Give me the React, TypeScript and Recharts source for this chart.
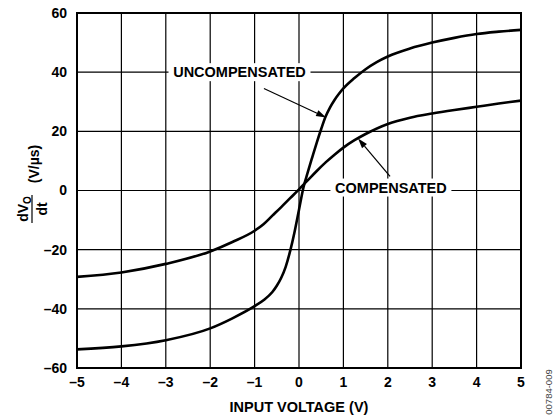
import React from 'react';
import {
  LineChart,
  Line,
  XAxis,
  YAxis,
  CartesianGrid,
  ReferenceArea,
  ReferenceLine,
  ReferenceDot,
} from 'recharts';

// input voltage (V) and slew rate (V/µs)
const uncompX = [-5, -4, -3, -2, -1.5, -1, -0.8, -0.6, -0.5, -0.4, -0.3, -0.2, -0.1, 0, 0.1, 0.2, 0.3, 0.4, 0.5, 0.6, 0.7, 0.8, 0.9, 1, 1.25, 1.5, 1.75, 2, 2.5, 3, 3.5, 4, 4.5, 5];
const uncompY = [-53.7, -52.7, -50.6, -46.6, -43.2, -39.1, -37.1, -34.3, -32.2, -29.5, -25.8, -20.5, -14, -6.5, 1, 6.3, 11.3, 16.2, 20.8, 25, 28.1, 30.6, 32.7, 34.5, 38, 41, 43.4, 45.3, 48, 50, 51.6, 52.9, 53.7, 54.3];

const compX = [-5, -4, -3, -2, -1.5, -1, -0.8, -0.6, -0.4, -0.2, 0, 0.2, 0.4, 0.6, 0.8, 1, 1.25, 1.5, 2, 2.5, 3, 3.5, 4, 4.5, 5];
const compY = [-29.2, -27.7, -24.8, -20.6, -17.4, -13.6, -11.4, -8.5, -5.6, -2.6, 0.4, 3.5, 6.6, 9.5, 12.1, 14.5, 17, 19.1, 22.5, 24.6, 26, 27.2, 28.3, 29.4, 30.4];

const xTicks = [-5, -4, -3, -2, -1, 0, 1, 2, 3, 4, 5];
const yTicks = [-60, -40, -20, 0, 20, 40, 60];

const uncompData = uncompX.map((x, i) => ({ x, y: uncompY[i] }));
const compData = compX.map((x, i) => ({ x, y: compY[i] }));

const FONT = '"Liberation Sans", Arial, Helvetica, sans-serif';

const fmt = (v: number) => (v < 0 ? `\u2013${Math.abs(v)}` : `${v}`);

const TextBox = (text: string, w: number) => (props: any) => {
  const { cx, cy } = props;
  return (
    <g>
      <rect x={cx - w / 2 - 3} y={cy - 9} width={w + 6} height={18} fill="#fff" />
      <text
        x={cx}
        y={cy}
        dy="0.36em"
        textAnchor="middle"
        fontFamily={FONT}
        fontWeight="bold"
        fontSize={14.5}
        fill="#000"
      >
        {text}
      </text>
    </g>
  );
};

const Arrow = (props: any) => {
  const { x1, y1, x2, y2 } = props;
  const dx = x2 - x1;
  const dy = y2 - y1;
  const len = Math.sqrt(dx * dx + dy * dy) || 1;
  const ux = dx / len;
  const uy = dy / len;
  const hl = 10;
  const hw = 3.2;
  const bx = x2 - ux * hl;
  const by = y2 - uy * hl;
  return (
    <g>
      <line x1={x1} y1={y1} x2={bx} y2={by} stroke="#000" strokeWidth={1.2} />
      <polygon
        points={`${x2},${y2} ${bx - uy * hw},${by + ux * hw} ${bx + uy * hw},${by - ux * hw}`}
        fill="#000"
      />
    </g>
  );
};

const YLabel = () => (
  <g fontFamily={FONT} fontWeight="bold" fill="#000">
    <g transform="translate(33,209) rotate(-90)">
      <text x={0} y={-5} textAnchor="middle" fontSize={14}>
        dV<tspan fontSize={10} dy={3}>O</tspan>
      </text>
      <line x1={-14} y1={-1} x2={14} y2={-1} stroke="#000" strokeWidth={1.2} />
      <text x={0} y={14} textAnchor="middle" fontSize={14}>
        dt
      </text>
    </g>
    <text transform="translate(39,164) rotate(-90)" textAnchor="middle" fontSize={14}>
      (V/µs)
    </text>
  </g>
);

export default function App() {
  return (
    <div style={{ position: 'absolute', left: 0, top: 0, width: 559, height: 419, background: '#fff' }}>
      <LineChart width={559} height={419} margin={{ top: 13, right: 38, bottom: 0, left: 0 }}>
        <CartesianGrid stroke="#000" strokeWidth={1.2} />
        <XAxis
          type="number"
          dataKey="x"
          domain={[-5, 5]}
          ticks={xTicks}
          tickFormatter={fmt}
          allowDataOverflow
          height={51}
          tickSize={0}
          tickMargin={9}
          axisLine={false}
          tick={{ fill: '#000', fontSize: 14, fontWeight: 'bold', fontFamily: FONT }}
          label={{
            value: 'INPUT VOLTAGE (V)',
            position: 'insideBottom',
            offset: 7,
            fill: '#000',
            fontSize: 14.5,
            fontWeight: 'bold',
            fontFamily: FONT,
          }}
        />
        <YAxis
          type="number"
          dataKey="y"
          domain={[-60, 60]}
          ticks={yTicks}
          tickFormatter={fmt}
          allowDataOverflow
          width={77}
          tickSize={0}
          tickMargin={10}
          axisLine={false}
          tick={{ fill: '#000', fontSize: 14, fontWeight: 'bold', fontFamily: FONT }}
          label={{ content: () => <YLabel /> }}
        />
        <ReferenceArea x1={-5} x2={5} y1={-60} y2={60} fill="none" stroke="#000" strokeWidth={2} />
        <ReferenceDot x={-1.34} y={40} r={0} shape={TextBox('UNCOMPENSATED', 136)} />
        <ReferenceDot x={2.07} y={1} r={0} shape={TextBox('COMPENSATED', 115)} />
        <ReferenceLine
          segment={[{ x: -0.79, y: 34.5 }, { x: 0.61, y: 24.7 }]}
          shape={Arrow}
        />
        <ReferenceLine
          segment={[{ x: 2.05, y: 4.8 }, { x: 1.33, y: 17.6 }]}
          shape={Arrow}
        />
        <Line
          data={uncompData}
          dataKey="y"
          type="monotone"
          stroke="#000"
          strokeWidth={2.6}
          dot={false}
          isAnimationActive={false}
        />
        <Line
          data={compData}
          dataKey="y"
          type="monotone"
          stroke="#000"
          strokeWidth={2.6}
          dot={false}
          isAnimationActive={false}
        />
      </LineChart>
      <svg
        width={20}
        height={60}
        style={{ position: 'absolute', left: 538, top: 362 }}
      >
        <text
          transform="translate(14,30) rotate(-90)"
          textAnchor="middle"
          fontFamily={FONT}
          fontSize={9.5}
          fill="#444"
        >
          00784-009
        </text>
      </svg>
    </div>
  );
}
